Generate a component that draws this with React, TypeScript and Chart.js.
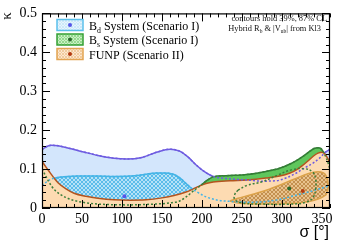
import React, { useEffect, useRef } from "react";
import { Chart, registerables } from "chart.js";

Chart.register(...registerables);

// ---------- axis ticks ----------
const X_TICKS = [0, 50, 100, 150, 200, 250, 300, 350];
const X_TICK_LABELS = ["0", "50", "100", "150", "200", "250", "300", "350"];
const Y_TICKS = [0, 0.1, 0.2, 0.3, 0.4, 0.5];
const Y_TICK_LABELS = ["0", "0.1", "0.2", "0.3", "0.4", "0.5"];
const X_MINOR_STEPS = 36; // every 10 degrees
const Y_MINOR_STEPS = 25; // every 0.02

const X_TITLE = "σ [°]";
const Y_TITLE = "κ";

// ---------- Bd system 87% CL contour (upper edge) ----------
const BD87_SIGMA = [0, 6, 12, 20, 35, 52, 70, 90, 106, 125, 143, 160, 172, 182, 193, 204, 214, 225, 240, 256, 275, 293, 306, 318, 330, 340, 348, 354, 360];
const BD87_KAPPA = [0.150, 0.158, 0.161, 0.160, 0.153, 0.144, 0.135, 0.128, 0.126, 0.130, 0.143, 0.151, 0.146, 0.132, 0.110, 0.092, 0.081, 0.077, 0.074, 0.072, 0.069, 0.070, 0.078, 0.090, 0.105, 0.117, 0.130, 0.143, 0.150];

// ---------- Bd system 39% CL contour ----------
const BD39_SIGMA = [0, 5, 10, 18, 27, 45, 68, 90, 110, 128, 143, 155, 165, 173, 180, 186, 193, 206, 220, 235, 255, 276, 297, 318, 335, 348, 356, 360];
const BD39_KAPPA = [0.058, 0.066, 0.073, 0.078, 0.080, 0.082, 0.082, 0.081, 0.082, 0.086, 0.090, 0.090, 0.086, 0.076, 0.063, 0.052, 0.042, 0.028, 0.020, 0.017, 0.015, 0.016, 0.022, 0.033, 0.042, 0.050, 0.055, 0.058];

// ---------- Bs system 87% CL contour ----------
const BS87_SIGMA = [0, 4, 8, 12, 16, 22, 30, 39, 50, 65, 80, 110, 140, 160, 172, 181, 190, 199, 207, 214, 230, 256, 280, 297, 310, 319, 328, 335, 340, 345, 349, 352, 356, 360];
const BS87_KAPPA = [0.100, 0.085, 0.069, 0.056, 0.046, 0.036, 0.027, 0.020, 0.015, 0.011, 0.009, 0.008, 0.010, 0.013, 0.018, 0.030, 0.045, 0.059, 0.072, 0.080, 0.083, 0.086, 0.094, 0.102, 0.113, 0.123, 0.135, 0.146, 0.153, 0.155, 0.152, 0.143, 0.125, 0.100];

// ---------- Bs system 39% CL contour (closed) ----------
const BS39_SIGMA = [245, 256, 276, 295, 312, 328, 338, 342, 342, 339, 330, 310, 276, 250, 241, 241, 245];
const BS39_KAPPA = [0.046, 0.058, 0.068, 0.085, 0.098, 0.101, 0.093, 0.075, 0.050, 0.028, 0.015, 0.010, 0.010, 0.013, 0.022, 0.035, 0.046];

// ---------- FUNP 87% CL contour ----------
const FUNP87_SIGMA = [0, 5, 10, 15, 20, 30, 40, 55, 70, 90, 110, 130, 150, 165, 180, 193, 205, 214, 235, 256, 280, 297, 310, 318, 325, 332, 339, 345, 350, 354, 357, 360];
const FUNP87_KAPPA = [0.120, 0.105, 0.091, 0.077, 0.065, 0.049, 0.038, 0.030, 0.025, 0.021, 0.020, 0.021, 0.026, 0.032, 0.041, 0.053, 0.063, 0.067, 0.070, 0.072, 0.077, 0.082, 0.090, 0.098, 0.108, 0.120, 0.133, 0.141, 0.143, 0.138, 0.128, 0.115];

// ---------- FUNP 39% CL region ----------
const FUNP39_UP_SIGMA = [235, 245, 258, 270, 285, 300, 315, 328, 338, 345, 351, 355, 357, 358];
const FUNP39_UP_KAPPA = [0.018, 0.025, 0.032, 0.039, 0.049, 0.061, 0.074, 0.085, 0.091, 0.093, 0.091, 0.083, 0.070, 0.055];
const FUNP39_LO_SIGMA = [235, 245, 260, 280, 300, 320, 335, 345, 352, 356, 358];
const FUNP39_LO_KAPPA = [0.018, 0.013, 0.011, 0.010, 0.011, 0.013, 0.017, 0.023, 0.030, 0.038, 0.055];

// ---------- best-fit points ----------
const BD_POINT = { sigma: 103, kappa: 0.030 };
const BS_POINT = { sigma: 309, kappa: 0.050 };
const FUNP_POINT = { sigma: 326, kappa: 0.044 };

// ---------- legend / notes ----------
const LEGEND_MAIN = ["B", "B", "FUNP (Scenario II)"];
const LEGEND_SUB = ["d", "s", ""];
const LEGEND_REST = [" System (Scenario I)", " System (Scenario I)", ""];
const NOTE_LINE1 = "contours hold 39%, 87% CL";
const NOTE_LINE2 = [["Hybrid R", "n"], ["b", "s"], [" & |V", "n"], ["ub", "s"], ["| from Kl3", "n"]];

const SERIF = '"Liberation Serif", "Times New Roman", serif';
const SANS = '"Liberation Sans", Arial, sans-serif';

const C = {
  bd87Fill: "#d3e6fc",
  bd87Line: "#6e5ce0",
  bd39Line: "#45b4e6",
  bs87Fill: "#5fc65c",
  bs87Line: "#2e7d32",
  bsDash: "#3a7d3a",
  funp87Fill: "#fddbb2",
  funp87Line: "#b4541e",
  funp39Line: "#dba24a",
  bdPt: "#5555e8",
  bsPt: "#2a6a2a",
  funpPt: "#b33a10",
};

function pts(xs: number[], ys: number[]) {
  return xs.map((x, i) => ({ x, y: ys[i] }));
}

function hatch(bg: string, fg: string, size: number, width = 1) {
  const c = document.createElement("canvas");
  c.width = size;
  c.height = size;
  const g = c.getContext("2d")!;
  g.fillStyle = bg;
  g.fillRect(0, 0, size, size);
  g.strokeStyle = fg;
  g.lineWidth = width;
  g.beginPath();
  g.moveTo(-1, -1);
  g.lineTo(size + 1, size + 1);
  g.moveTo(size + 1, -1);
  g.lineTo(-1, size + 1);
  g.stroke();
  return g.createPattern(c, "repeat")!;
}

function drawParts(ctx: CanvasRenderingContext2D, parts: string[][], x: number, y: number, size: number, align: "left" | "right") {
  const subSize = size * 0.65;
  const widths = parts.map(([t, k]) => {
    ctx.font = `${k === "s" ? subSize : size}px ${SERIF}`;
    return ctx.measureText(t).width;
  });
  const total = widths.reduce((a, b) => a + b, 0);
  let cx = align === "left" ? x : x - total;
  ctx.textAlign = "left";
  ctx.textBaseline = "alphabetic";
  parts.forEach(([t, k], i) => {
    ctx.font = `${k === "s" ? subSize : size}px ${SERIF}`;
    ctx.fillText(t, cx, k === "s" ? y + size * 0.25 : y);
    cx += widths[i];
  });
}

export default function App() {
  const ref = useRef<HTMLCanvasElement | null>(null);

  useEffect(() => {
    if (!ref.current) return;
    const line = { pointRadius: 0, borderWidth: 1.5, cubicInterpolationMode: "monotone" };
    const dash = [2, 2];

    const datasets: any[] = [];
    datasets.push({ ...line, data: pts(BD87_SIGMA, BD87_KAPPA), borderColor: C.bd87Line, backgroundColor: C.bd87Fill, fill: "origin", order: 100 });
    datasets.push({ ...line, data: pts(BD39_SIGMA, BD39_KAPPA), borderColor: C.bd39Line, backgroundColor: hatch("#b6e2f7", "#5abcea", 4), fill: "origin", order: 99 });
    datasets.push({ ...line, data: pts(BS87_SIGMA, BS87_KAPPA), borderColor: C.bs87Line, backgroundColor: C.bs87Fill, fill: "origin", order: 98 });
    datasets.push({ ...line, data: pts(FUNP87_SIGMA, FUNP87_KAPPA), borderColor: C.funp87Line, backgroundColor: C.funp87Fill, fill: "origin", order: 97 });
    const loIdx = datasets.length;
    datasets.push({ ...line, data: pts(FUNP39_LO_SIGMA, FUNP39_LO_KAPPA), borderColor: C.funp39Line, fill: false, order: 95 });
    datasets.push({ ...line, data: pts(FUNP39_UP_SIGMA, FUNP39_UP_KAPPA), borderColor: C.funp39Line, backgroundColor: hatch("#e9c38e", "#c39050", 4), fill: loIdx, order: 96 });
    datasets.push({ ...line, data: pts(BD87_SIGMA, BD87_KAPPA), borderColor: C.bd87Line, borderDash: dash, fill: false, order: 94 });
    datasets.push({ ...line, data: pts(BD39_SIGMA, BD39_KAPPA), borderColor: C.bd39Line, borderDash: dash, fill: false, order: 93 });
    datasets.push({ ...line, data: pts(BS87_SIGMA, BS87_KAPPA), borderColor: C.bsDash, borderDash: dash, fill: false, order: 92 });
    datasets.push({ pointRadius: 0, borderWidth: 1.5, tension: 0.45, data: pts(BS39_SIGMA, BS39_KAPPA), borderColor: C.bsDash, borderDash: dash, fill: false, order: 91 });
    [[BD_POINT, C.bdPt], [BS_POINT, C.bsPt], [FUNP_POINT, C.funpPt]].forEach(([p, col]: any) => {
      datasets.push({ data: [{ x: p.sigma, y: p.kappa }], showLine: false, pointRadius: 2, pointBorderWidth: 0, pointBackgroundColor: col, borderColor: col, order: 90 });
    });

    const legendFills = [hatch("#e6f4fd", "#cbe8f8", 3), hatch("#cbf0c6", "#95da90", 3), hatch("#fde7ce", "#f0cb9e", 3)];
    const legendBorders = ["#5bc0eb", "#34a034", "#e2a452"];
    const legendDots = [C.bdPt, C.bsPt, C.funpPt];

    const decor = {
      id: "decor",
      afterDatasetsDraw(chart: any) {
        const { ctx, chartArea: a, scales } = chart;
        const xs = scales.x, ys = scales.y;
        ctx.save();
        ctx.strokeStyle = "#000";
        ctx.lineWidth = 1;
        ctx.beginPath();
        for (let i = 0; i <= X_MINOR_STEPS; i++) {
          const v = i * 10;
          const px = Math.round(xs.getPixelForValue(v)) + 0.5;
          const len = i % 5 === 0 ? 8 : 4;
          ctx.moveTo(px, a.bottom);
          ctx.lineTo(px, a.bottom - len);
          ctx.moveTo(px, a.top);
          ctx.lineTo(px, a.top + len);
        }
        for (let i = 0; i <= Y_MINOR_STEPS; i++) {
          const v = i * 0.02;
          const py = Math.round(ys.getPixelForValue(v)) + 0.5;
          const len = i % 5 === 0 ? 8 : 4;
          ctx.moveTo(a.left, py);
          ctx.lineTo(a.left + len, py);
          ctx.moveTo(a.right, py);
          ctx.lineTo(a.right - len, py);
        }
        ctx.stroke();
        ctx.lineWidth = 1.2;
        ctx.strokeRect(a.left + 0.5, a.top + 0.5, a.right - a.left - 1, a.bottom - a.top - 1);
        ctx.restore();
      },
      afterDraw(chart: any) {
        const { ctx, chartArea: a } = chart;
        ctx.save();
        // legend
        const rows = [25, 39.5, 54];
        rows.forEach((cy, i) => {
          const bx = 57, bw = 26, bh = 11;
          ctx.fillStyle = legendFills[i];
          ctx.fillRect(bx, cy - bh / 2, bw, bh);
          ctx.strokeStyle = legendBorders[i];
          ctx.lineWidth = 1.5;
          ctx.strokeRect(bx, cy - bh / 2, bw, bh);
          ctx.fillStyle = legendDots[i];
          ctx.beginPath();
          ctx.arc(bx + bw / 2, cy, 2, 0, Math.PI * 2);
          ctx.fill();
          ctx.fillStyle = "#000";
          const parts: string[][] = [[LEGEND_MAIN[i], "n"]];
          if (LEGEND_SUB[i]) parts.push([LEGEND_SUB[i], "s"]);
          if (LEGEND_REST[i]) parts.push([LEGEND_REST[i], "n"]);
          drawParts(ctx, parts, 89, cy + 4.5, 12, "left");
        });
        // notes
        ctx.fillStyle = "#111";
        drawParts(ctx, [[NOTE_LINE1, "n"]], 327, 20.5, 8.4, "right");
        drawParts(ctx, NOTE_LINE2, 321, 30.5, 8.4, "right");
        // axis titles
        ctx.fillStyle = "#000";
        ctx.font = `16px ${SANS}`;
        ctx.textAlign = "right";
        ctx.textBaseline = "alphabetic";
        ctx.fillText(X_TITLE, a.right - 1, 237);
        ctx.save();
        ctx.translate(7, 16);
        ctx.rotate(-Math.PI / 2);
        ctx.font = `15px ${SERIF}`;
        ctx.textAlign = "center";
        ctx.textBaseline = "middle";
        ctx.fillText(Y_TITLE, 0, 0);
        ctx.restore();
        ctx.restore();
      },
    };

    const chart = new Chart(ref.current, {
      type: "line",
      data: { datasets },
      options: {
        animation: false,
        responsive: false,
        devicePixelRatio: 1,
        events: [],
        layout: { padding: { left: 0, right: 17, top: 13, bottom: 0 } },
        plugins: { legend: { display: false }, tooltip: { enabled: false }, title: { display: false } },
        scales: {
          x: {
            type: "linear",
            min: 0,
            max: 360,
            afterFit: (s: any) => { s.height = 43; },
            afterBuildTicks: (s: any) => { s.ticks = X_TICKS.map((v) => ({ value: v })); },
            grid: { display: false, drawTicks: false },
            border: { display: false },
            ticks: {
              autoSkip: false,
              maxRotation: 0,
              padding: 3,
              color: "#000",
              font: { family: SERIF, size: 14 },
              callback: (_v: any, i: number) => X_TICK_LABELS[i],
            },
          },
          y: {
            type: "linear",
            min: 0,
            max: 0.5,
            afterFit: (s: any) => { s.width = 42; },
            afterBuildTicks: (s: any) => { s.ticks = Y_TICKS.map((v) => ({ value: v })); },
            grid: { display: false, drawTicks: false },
            border: { display: false },
            ticks: {
              padding: 5,
              color: "#000",
              font: { family: SERIF, size: 14 },
              callback: (_v: any, i: number) => Y_TICK_LABELS[i],
            },
          },
        },
      } as any,
      plugins: [decor],
    });
    return () => chart.destroy();
  }, []);

  return (
    <div style={{ position: "absolute", left: 0, top: 0, width: 347, height: 251, background: "#fff" }}>
      <canvas ref={ref} width={347} height={251} style={{ display: "block", width: 347, height: 251 }} />
    </div>
  );
}
